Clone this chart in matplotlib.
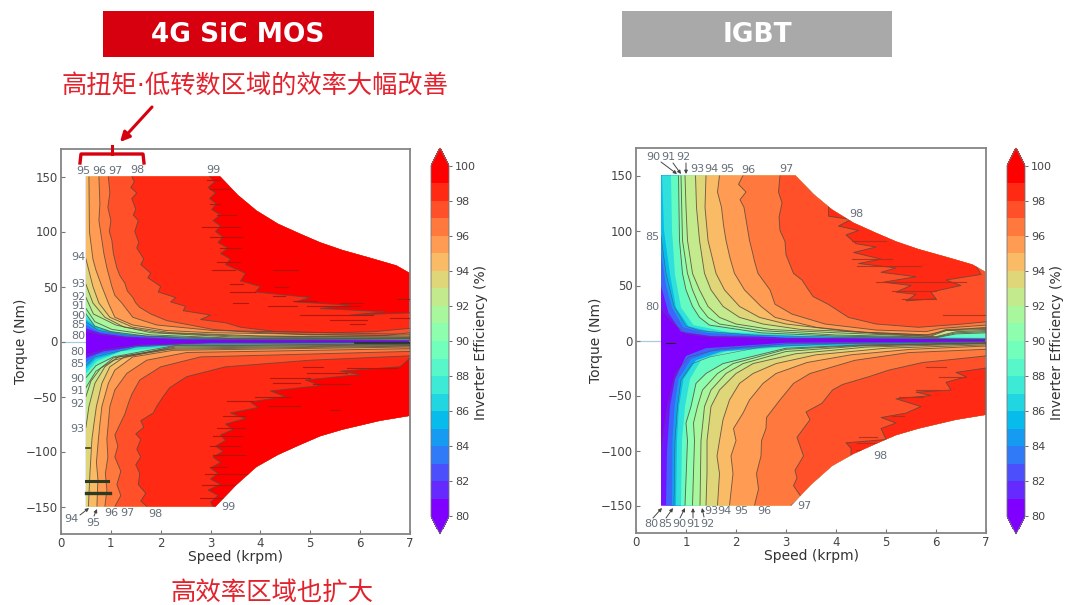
import numpy as np
import matplotlib
matplotlib.use('Agg')
import matplotlib.pyplot as plt
from matplotlib.colors import ListedColormap, BoundaryNorm
from matplotlib.colorbar import ColorbarBase
from matplotlib.patches import Polygon, Rectangle

plt.rcParams['font.family'] = ['DejaVu Sans', 'Noto Sans CJK SC']

# outline of the operating area
env_x = [0.5, 3.19, 3.55, 3.92, 4.35, 4.79, 5.2, 5.65, 6.2, 6.73, 7, 7, 6.4, 5.65, 5.2, 4.79, 4.35, 3.92, 3.5, 3.1, 0.5]
env_t = [150, 150, 133, 119, 107, 98, 90, 83, 76, 69, 62, -67.5, -72, -80, -86, -94, -103, -114, -131, -150, -150]

fill_levels = [80, 82, 84, 85, 86, 88, 90, 91, 92, 93, 94, 95, 96, 97, 98, 99]
line_levels = [80, 85, 90, 91, 92, 93, 94, 95, 96, 97, 98, 99]

# 4G SiC MOS, positive torque
sic_up_80_x = [0.5, 0.8, 1.3, 2.5, 7]
sic_up_80_t = [9, 6, 3.5, 1.5, 0.8]
sic_up_82_x = [0.5, 0.8, 1.3, 2.5, 7]
sic_up_82_t = [12, 7.5, 4.5, 2, 1]
sic_up_84_x = [0.5, 0.75, 1.3, 2.5, 7]
sic_up_84_t = [15, 9, 5.5, 2.6, 1.2]
sic_up_85_x = [0.5, 0.75, 1.3, 2.5, 7]
sic_up_85_t = [18, 10, 6, 3, 1.3]
sic_up_86_x = [0.5, 0.75, 1.3, 2.5, 7]
sic_up_86_t = [20, 12, 7, 3.5, 1.5]
sic_up_88_x = [0.5, 0.8, 1.3, 2.5, 7]
sic_up_88_t = [23, 12, 8, 4, 1.7]
sic_up_90_x = [0.5, 0.68, 1.0, 1.7, 3.5, 7]
sic_up_90_t = [25, 14, 9, 5, 2.5, 2.2]
sic_up_91_x = [0.5, 0.68, 1.02, 1.8, 3.5, 7]
sic_up_91_t = [30, 18, 11, 6, 3, 2.6]
sic_up_92_x = [0.5, 0.65, 1.1, 1.8, 3.5, 7]
sic_up_92_t = [40, 25, 15, 8, 4, 3]
sic_up_93_x = [0.5, 0.64, 0.88, 1.27, 2, 3.5, 7]
sic_up_93_t = [52, 35, 22, 13, 8, 5, 3.6]
sic_up_94_x = [0.5, 0.64, 0.76, 0.98, 1.44, 2.2, 4, 7]
sic_up_94_t = [75, 50, 35, 22, 13, 8, 5, 4.2]
sic_up_95_x = [0.56, 0.57, 0.64, 0.7, 0.82, 0.95, 1.08, 1.44, 2.1, 3, 7]
sic_up_95_t = [150, 100, 75, 65, 50, 35, 22, 15, 10, 8, 5]
sic_up_96_x = [0.76, 0.78, 0.76, 0.82, 0.86, 0.92, 1.02, 1.08, 1.22, 1.44, 1.92, 3.05, 7]
sic_up_96_t = [150, 125, 110, 92, 80, 67, 50, 42, 35, 22, 15, 10, 6.5]
sic_up_97_x = [0.95, 0.98, 0.94, 1.0, 0.97, 1.02, 1.05, 1.12, 1.18, 1.28, 1.33, 1.44, 1.5, 1.58, 1.8, 2.12, 3.05, 3.6, 5, 6.5, 7]
sic_up_97_t = [150, 135, 122, 110, 100, 92, 80, 67, 60, 53, 46, 40, 35, 31, 25, 19, 11, 9, 6, 5.5, 8]
sic_up_98_x = [1.42, 1.47, 1.4, 1.52, 1.42, 1.5, 1.45, 1.55, 1.48, 1.56, 1.52, 1.66, 1.6, 1.8, 1.74, 2.0, 1.95, 2.3, 2.2, 2.5, 2.45, 3.0, 2.8, 3.3, 3.6, 4.3, 5.5, 6.3, 7]
sic_up_98_t = [150, 145, 140, 135, 130, 120, 115, 110, 100, 90, 85, 75, 70, 62, 58, 50, 45, 40, 36, 32, 28, 24, 20, 17, 13, 9, 8, 9, 12]
sic_up_99_x = [2.98, 3.08, 2.95, 3.1, 2.98, 3.12, 3.02, 3.2, 3.05, 3.2, 3.1, 3.25, 3.15, 3.35, 3.2, 3.4, 3.3, 3.7, 3.6, 4.0, 3.9, 5.0, 4.7, 5.8, 5.2, 6.5, 5.8, 7]
sic_up_99_t = [150, 145, 140, 135, 130, 125, 120, 115, 110, 105, 100, 95, 90, 85, 80, 75, 70, 62, 55, 50, 45, 40, 36, 33, 30, 27, 24, 26]

# 4G SiC MOS, negative torque
sic_lo_80_x = [0.5, 0.9, 1.6, 3, 7]
sic_lo_80_t = [-12, -7, -3, -1.2, -0.8]
sic_lo_82_x = [0.5, 0.85, 1.6, 3, 7]
sic_lo_82_t = [-15, -9, -4, -1.5, -1]
sic_lo_84_x = [0.5, 0.72, 1.5, 3, 7]
sic_lo_84_t = [-19, -12, -4.5, -1.8, -1.2]
sic_lo_85_x = [0.5, 0.68, 1.5, 2.5, 7]
sic_lo_85_t = [-22, -14, -5, -2.5, -1.3]
sic_lo_86_x = [0.5, 0.7, 1.5, 2.5, 7]
sic_lo_86_t = [-25, -16, -5.5, -2.8, -1.5]
sic_lo_88_x = [0.5, 0.72, 1.2, 2.5, 7]
sic_lo_88_t = [-29, -18, -9, -3.2, -1.7]
sic_lo_90_x = [0.5, 0.7, 1.05, 2.3, 7]
sic_lo_90_t = [-33, -22, -14, -3.5, -2.2]
sic_lo_91_x = [0.5, 0.7, 1.05, 2.3, 7]
sic_lo_91_t = [-42, -27, -17, -4, -2.6]
sic_lo_92_x = [0.5, 0.6, 0.8, 1.05, 2.3, 7]
sic_lo_92_t = [-50, -36, -24, -15, -5, -3]
sic_lo_93_x = [0.5, 0.56, 0.68, 0.88, 1.15, 2.3, 7]
sic_lo_93_t = [-78, -59, -38, -23, -14, -6, -3.6]
sic_lo_94_x = [0.55, 0.58, 0.62, 0.66, 0.71, 0.82, 0.98, 1.27, 2.2, 7]
sic_lo_94_t = [-150, -120, -89, -75, -59, -38, -23, -14, -7, -4.2]
sic_lo_95_x = [0.72, 0.74, 0.71, 0.75, 0.78, 0.82, 0.95, 1.08, 1.44, 2.25, 7]
sic_lo_95_t = [-150, -125, -110, -89, -75, -59, -38, -26, -14, -8, -5]
sic_lo_96_x = [0.88, 0.92, 0.89, 0.94, 0.92, 0.98, 1.08, 1.32, 1.72, 2.52, 7]
sic_lo_96_t = [-150, -135, -120, -105, -89, -59, -44, -29, -17, -10, -6.5]
sic_lo_97_x = [1.08, 1.2, 1.12, 1.2, 1.08, 1.14, 1.08, 1.28, 1.36, 1.42, 1.58, 2, 2.8, 7]
sic_lo_97_t = [-150, -140, -130, -118, -105, -95, -85, -66, -55, -48, -35, -23, -14, -9]
sic_lo_98_x = [1.72, 1.6, 1.7, 1.55, 1.58, 1.5, 1.6, 1.52, 1.6, 1.5, 1.66, 1.6, 1.85, 1.92, 2.05, 2.18, 2.52, 3.3, 5, 7]
sic_lo_98_t = [-150, -145, -138, -130, -120, -112, -105, -98, -89, -84, -78, -72, -65, -59, -50, -42, -32, -23, -17, -13]
sic_lo_99_x = [3.05, 3.0, 3.15, 2.95, 3.2, 3.0, 3.15, 3.0, 3.2, 3.05, 3.25, 3.1, 3.3, 3.2, 3.45, 3.3, 3.7, 3.4, 3.95, 3.8, 4.5, 4.2, 5.2, 4.9, 6.0, 5.6, 6.8, 7]
sic_lo_99_t = [-150, -146, -140, -135, -130, -125, -120, -115, -110, -105, -100, -95, -90, -85, -80, -75, -70, -65, -60, -55, -50, -45, -40, -35, -30, -27, -23, -15]

# IGBT, positive torque
igbt_up_80_x = [0.5, 0.76, 1, 1.5, 3, 7]
igbt_up_80_t = [28, 15, 6, 3, 1.5, 1]
igbt_up_82_x = [0.5, 0.65, 0.9, 1.5, 7]
igbt_up_82_t = [50, 25, 8, 4, 1.2]
igbt_up_84_x = [0.5, 0.6, 0.72, 0.95, 1.4, 3, 7]
igbt_up_84_t = [80, 50, 30, 12, 7, 2.5, 1.4]
igbt_up_85_x = [0.5, 0.6, 0.76, 1.0, 1.27, 2.3, 4, 7]
igbt_up_85_t = [95, 61, 31, 13, 9, 5, 3, 1.5]
igbt_up_86_x = [0.52, 0.56, 0.68, 0.8, 1.05, 1.5, 3, 7]
igbt_up_86_t = [150, 100, 60, 30, 13, 8, 4, 2]
igbt_up_88_x = [0.7, 0.72, 0.78, 0.9, 1.15, 1.8, 3.5, 7]
igbt_up_88_t = [150, 100, 60, 30, 14, 8, 4, 2.5]
igbt_up_90_x = [0.85, 0.87, 0.93, 1.0, 1.13, 1.27, 1.47, 2.5, 4, 6, 6.4, 7]
igbt_up_90_t = [150, 91, 61, 46, 31, 21, 14, 7, 4, 2.5, 6, 7]
igbt_up_91_x = [0.9, 0.93, 1.03, 1.13, 1.27, 1.44, 1.67, 2.5, 4, 6, 6.4, 7]
igbt_up_91_t = [150, 91, 61, 46, 31, 21, 15, 9, 5, 3, 7, 8]
igbt_up_92_x = [0.98, 1.0, 1.03, 1.13, 1.27, 1.44, 1.67, 2, 2.7, 4, 6, 6.4, 7]
igbt_up_92_t = [150, 121, 91, 61, 46, 31, 21, 15, 10, 7, 3.5, 8, 9]
igbt_up_93_x = [1.19, 1.21, 1.27, 1.37, 1.5, 1.74, 2.07, 2.54, 3.3, 5.8, 6.2, 7]
igbt_up_93_t = [150, 121, 91, 61, 46, 31, 21, 15, 10, 5, 9, 10]
igbt_up_94_x = [1.4, 1.38, 1.44, 1.6, 1.77, 2.07, 2.47, 3, 4.3, 5.9, 6.2, 7]
igbt_up_94_t = [150, 121, 91, 61, 46, 31, 21, 15, 8, 5, 10, 11]
igbt_up_95_x = [1.67, 1.63, 1.71, 1.75, 1.8, 1.88, 1.97, 2.17, 2.5, 2.78, 3.6, 4.8, 5.9, 6.2, 7]
igbt_up_95_t = [150, 135, 121, 105, 91, 75, 61, 46, 31, 21, 12, 6.3, 4, 9, 12]
igbt_up_96_x = [2.14, 2.05, 2.2, 2.08, 2.16, 2.27, 2.33, 2.37, 2.44, 2.68, 2.78, 3.12, 3.78, 4.8, 5.8, 6.1, 7]
igbt_up_96_t = [150, 142, 135, 128, 121, 91, 80, 72, 61, 46, 33, 24, 15, 9.5, 8, 11, 14]
igbt_up_97_x = [2.88, 2.85, 2.92, 2.86, 2.88, 2.98, 3.0, 3.15, 3.32, 3.42, 3.54, 3.84, 4.25, 4.8, 5.65, 6.54, 7]
igbt_up_97_t = [150, 135, 125, 112, 100, 90, 78, 61, 55, 48, 40, 33, 21, 15, 12, 15, 17]
igbt_up_98_x = [3.85, 3.85, 4.3, 4.05, 4.45, 4.2, 4.4, 4.8, 4.35, 4.9, 4.45, 5.2, 4.9, 5.6, 4.95, 5.5, 5.2, 5.6, 5.4, 6.0, 5.9, 6.5, 6.2, 6.9, 6.8, 6.8]
igbt_up_98_t = [125, 113, 110, 104, 100, 96, 88, 85, 80, 74, 70, 66, 62, 58, 53, 50, 44, 42, 36, 38, 44, 50, 55, 60, 68, 125]

# IGBT, negative torque
igbt_lo_80_x = [0.5, 0.62, 0.78, 1.05, 1.67, 3, 7]
igbt_lo_80_t = [-100, -60, -30, -15, -7.5, -3, -1]
igbt_lo_82_x = [0.6, 0.62, 0.68, 0.78, 1, 1.4, 3, 7]
igbt_lo_82_t = [-150, -100, -60, -35, -14, -7, -2, -1]
igbt_lo_84_x = [0.72, 0.73, 0.77, 0.85, 1.1, 1.5, 3, 7]
igbt_lo_84_t = [-150, -90, -60, -35, -17, -10, -3.5, -1.3]
igbt_lo_85_x = [0.76, 0.78, 0.83, 0.9, 1.13, 1.47, 2.5, 4, 7]
igbt_lo_85_t = [-150, -91, -60, -36, -21, -15, -6, -3, -1.5]
igbt_lo_86_x = [0.8, 0.82, 0.86, 0.95, 1.2, 1.7, 3, 7]
igbt_lo_86_t = [-150, -90, -60, -35, -18, -10, -5, -1.7]
igbt_lo_88_x = [0.9, 0.92, 0.98, 1.08, 1.3, 1.8, 3, 7]
igbt_lo_88_t = [-150, -90, -60, -35, -18, -10, -6, -1.9]
igbt_lo_90_x = [0.98, 1.03, 1.0, 1.1, 1.2, 1.4, 1.74, 3, 4.5, 7]
igbt_lo_90_t = [-150, -91, -75, -60, -39, -30, -21, -7, -4, -2]
igbt_lo_91_x = [1.13, 1.17, 1.15, 1.23, 1.33, 1.63, 1.94, 3, 4.5, 7]
igbt_lo_91_t = [-150, -91, -75, -60, -45, -30, -21, -8, -4.5, -2.2]
igbt_lo_92_x = [1.28, 1.3, 1.37, 1.5, 1.8, 2.14, 3, 4.5, 7]
igbt_lo_92_t = [-150, -91, -60, -45, -30, -21, -10, -5, -2.5]
igbt_lo_93_x = [1.4, 1.42, 1.42, 1.5, 1.67, 2.0, 2.34, 3.2, 4.6, 7]
igbt_lo_93_t = [-150, -121, -91, -60, -45, -30, -21, -12, -6, -3]
igbt_lo_94_x = [1.63, 1.67, 1.62, 1.67, 1.74, 1.87, 2.07, 2.34, 2.8, 3.6, 5, 7]
igbt_lo_94_t = [-150, -121, -105, -91, -72, -54, -39, -30, -21, -13, -7, -4]
igbt_lo_95_x = [1.87, 1.94, 1.9, 2.0, 1.95, 2.14, 2.27, 2.54, 2.8, 3.42, 4.3, 5.5, 7]
igbt_lo_95_t = [-150, -121, -105, -91, -80, -66, -54, -39, -30, -20, -13, -8, -5]
igbt_lo_96_x = [2.37, 2.45, 2.41, 2.5, 2.51, 2.6, 2.61, 2.88, 3.15, 3.48, 4.38, 5.45, 7]
igbt_lo_96_t = [-150, -135, -121, -105, -91, -80, -70, -54, -39, -30, -18, -11, -8]
igbt_lo_97_x = [3.1, 3.3, 3.15, 3.22, 3.18, 3.35, 3.22, 3.48, 3.4, 3.72, 3.93, 4.13, 4.65, 5.05, 5.73, 6.8, 7]
igbt_lo_97_t = [-150, -142, -132, -125, -118, -105, -88, -72, -65, -57, -45, -40, -33, -27, -20, -15, -14]
igbt_lo_98_x = [4.3, 4.3, 4.2, 5.0, 4.9, 5.2, 4.9, 5.4, 5.7, 5.2, 5.9, 5.6, 6.3, 6.2, 6.6, 6.4, 7, 7, 4.3]
igbt_lo_98_t = [-125, -98, -93, -90, -80, -75, -70, -66, -60, -53, -50, -47, -45, -38, -33, -29, -25, -125, -125]

# short dark streaks beside the jagged contours
sic_streak_t = [146.4, 139, 125, 114.7, 104, 95, 84.6, 72.5, 65, 65, 52, 50, 44.7, 41.7, 34.6, 37, 32, 32, 35, 39, 24, 19.5, 21, 16,
                -22.8, -24, -29, -33.6, -38, -39, -50, -54, -59, -68, -62.5, -79, -86, -95, -103, -114, -120, -130, -142]
sic_streak_x0 = [2.92, 2.99, 2.99, 3.12, 2.82, 2.99, 3.19, 3.12, 3.02, 4.25, 3.39, 4.29, 3.39, 4.25, 3.45, 4.66, 4.15, 4.93, 5.59, 6.73, 4.79, 5.39, 6.6, 5.79,
                 4.86, 5.73, 4.93, 4.19, 4.25, 5.06, 3.89, 3.32, 4.15, 3.25, 5.39, 3.12, 3.05, 2.99, 3.05, 2.99, 2.89, 2.82, 2.79]
sic_streak_x1 = [3.19, 3.39, 3.19, 3.52, 3.59, 3.65, 3.62, 3.59, 3.49, 4.76, 3.65, 4.56, 3.89, 4.49, 3.75, 5.13, 4.73, 5.99, 6.06, 7, 6.26, 6.13, 7, 6.1,
                 5.26, 6.73, 5.73, 4.99, 4.79, 5.79, 4.59, 3.85, 4.79, 3.69, 5.59, 3.69, 3.65, 3.59, 3.69, 3.32, 4.0, 3.52, 3.32]
igbt_streak_t = [90.5, 74, 68, 53, 45, 38, 23.6, -87.6, -93.6, -99.6, -24, -33, -45, -51, -69]
igbt_streak_x0 = [4.32, 4.32, 4.42, 4.79, 5.12, 5.32, 6.13, 4.45, 4.42, 4.39, 5.79, 6.06, 5.6, 5.26, 5.12]
igbt_streak_x1 = [4.99, 5.12, 5.7, 6.6, 5.99, 5.99, 7, 4.82, 4.79, 4.86, 6.2, 6.6, 6.06, 5.73, 5.36]

ticks_x = [0, 1, 2, 3, 4, 5, 6, 7]
ticks_y = [-150, -100, -50, 0, 50, 100, 150]
cbar_levels = list(range(80, 101))
cbar_ticks = list(range(80, 101, 2))

# text labels on the contours: text, x px, y px
sic_labels = [('95', 83, 171), ('96', 99, 171), ('97', 115, 171), ('98', 137, 170), ('99', 213, 170),
              ('94', 78, 257), ('93', 78, 284), ('92', 78, 297), ('91', 78, 306), ('90', 78, 316),
              ('85', 78, 325), ('80', 78, 336), ('80', 77, 352), ('85', 77, 364), ('90', 77, 379),
              ('91', 77, 391), ('92', 77, 404), ('93', 77, 429), ('94', 71, 519), ('95', 93, 523),
              ('96', 111, 513), ('97', 127, 513), ('98', 155, 514), ('99', 228, 507)]
sic_arrows = [(80, 515, 89, 508), (94, 516, 97, 509)]
igbt_labels = [('90', 653, 157), ('91', 668, 157), ('92', 683, 157), ('93', 697, 169), ('94', 711, 169),
               ('95', 727, 169), ('96', 748, 170), ('97', 786, 169), ('85', 652, 237), ('80', 652, 307),
               ('98', 856, 214), ('98', 880, 456), ('97', 804, 506), ('80', 651, 524), ('85', 665, 524),
               ('90', 679, 524), ('91', 693, 524), ('92', 707, 524), ('93', 711, 511), ('94', 724, 511),
               ('95', 741, 511), ('96', 764, 511)]
igbt_arrows = [(661, 162, 677, 174), (673, 163, 681, 174), (686, 163, 686, 174),
               (653, 518, 662, 508), (666, 518, 673, 508), (680, 518, 685, 508),
               (693, 518, 693, 508), (704, 517, 702, 508)]

W, H = 1065, 605
LINE = '#5c4a3c'
LAB = '#66707a'
RED = '#d7000f'

colors = plt.cm.rainbow(np.linspace(0, 1, 20))
cmap = ListedColormap(colors)
cmap.set_under(colors[0])
cmap.set_over(colors[-1])


def px_axes(left, top, right, bottom):
    return fig.add_axes([left / W, 1 - bottom / H, (right - left) / W, (bottom - top) / H])


def band_color(i, levels):
    lv = levels[i]
    nxt = levels[i + 1] if i + 1 < len(levels) else lv + 1
    return plt.cm.rainbow(((lv + nxt) / 2 - 0.5 - 80) / 19)


def draw_half(ax, name, sign, clip, levels):
    for i, lv in enumerate(levels):
        xs = globals()[f'{name}_{lv}_x']
        ts = globals()[f'{name}_{lv}_t']
        # everything right of / beyond the contour is at least this efficient
        pts = list(zip(xs, ts)) + [(7.5, ts[-1]), (7.5, sign * 200), (xs[0], sign * 200)]
        p = Polygon(pts, closed=True, fc=band_color(i, levels), ec='none', zorder=2 + i * 0.01)
        ax.add_patch(p)
        p.set_clip_path(clip)
    for lv in line_levels:
        if lv not in levels:
            continue
        # the low contours are packed tight, keep them fine
        lw = 0.35 if lv < 90 else 0.65
        ln, = ax.plot(globals()[f'{name}_{lv}_x'], globals()[f'{name}_{lv}_t'],
                      color=LINE, lw=lw, alpha=0.85, zorder=3)
        ln.set_clip_path(clip)


def panel(box, cbox, up, lo, levels, streak_t, streak_x0, streak_x1, streak_color):
    ax = px_axes(*box)
    ax.set_xlim(0, 7)
    ax.set_ylim(-175, 175)
    clip = Polygon(list(zip(env_x, env_t)), closed=True, transform=ax.transData)
    ax.fill(env_x, env_t, color=colors[0], lw=0, zorder=1)
    ax.axhline(0, color='#a9cbe0', lw=0.9, zorder=0.5)
    draw_half(ax, up, 1, clip, levels)
    draw_half(ax, lo, -1, clip, levels)
    for t, x0, x1 in zip(streak_t, streak_x0, streak_x1):
        ln, = ax.plot([x0, x1], [t, t], color=streak_color, lw=0.8, alpha=0.9, zorder=3.5)
        ln.set_clip_path(clip)
    ax.set_xticks(ticks_x)
    ax.set_yticks(ticks_y)
    ax.tick_params(direction='in', length=3, width=0.8, color='#777777', labelcolor='#444444',
                   labelsize=8.5, pad=2.5)
    ax.set_xlabel('Speed (krpm)', fontsize=10, color='#333333', labelpad=0)
    ax.set_ylabel('Torque (Nm)', fontsize=10, color='#333333', labelpad=-2)
    for s in ax.spines.values():
        s.set_color('#858585')
        s.set_linewidth(1.3)

    cax = px_axes(*cbox)
    norm = BoundaryNorm(cbar_levels, 20)
    cb = ColorbarBase(cax, cmap=cmap, norm=norm, extend='both', extendfrac=17.5 / 350,
                      ticks=cbar_ticks, spacing='proportional', drawedges=False)
    cb.minorticks_off()
    cb.outline.set_edgecolor('#777777')
    cb.outline.set_linewidth(0.6)
    cb.ax.tick_params(length=2.5, width=0.7, color='#666666', labelcolor='#444444', labelsize=8, pad=2)
    return ax


fig = plt.figure(figsize=(W / 100, H / 100), dpi=100)

ax1 = panel((61, 149, 410, 534), (431, 148, 449, 534), 'sic_up', 'sic_lo', fill_levels,
            sic_streak_t, sic_streak_x0, sic_streak_x1, '#a81810')
ax2 = panel((636, 148, 986, 533), (1007, 148, 1025, 534), 'igbt_up', 'igbt_lo', fill_levels[:-1],
            igbt_streak_t, igbt_streak_x0, igbt_streak_x1, '#b0301a')

# dark streaks at the low speed end
ax1.plot([0.5, 0.95], [-127, -127], color='#2c3a22', lw=2.2, zorder=4)
ax1.plot([0.5, 0.98], [-138, -138], color='#2c3a22', lw=2.4, zorder=4)
ax1.plot([0.5, 0.58], [-97, -97], color='#3a3a22', lw=1.2, zorder=4)
ax1.plot([5.9, 7], [-1, -1], color='#20302a', lw=1.2, zorder=4)
ax2.plot([0.6, 0.78], [-2, -2], color='#222222', lw=0.8, zorder=4)

# overlay in pixel coordinates for banners, notes and contour labels
ov = fig.add_axes([0, 0, 1, 1], zorder=10)
ov.set_xlim(0, W)
ov.set_ylim(H, 0)
ov.axis('off')
ov.patch.set_alpha(0)

ov.add_patch(Rectangle((103, 11), 271, 46, fc=RED, ec='none'))
ov.add_patch(Rectangle((622, 11), 270, 46, fc='#a9a9a9', ec='none'))
ov.text(238, 35, '4G SiC MOS', color='white', fontsize=19, fontweight='bold',
        ha='center', va='center')
ov.text(757, 35, 'IGBT', color='white', fontsize=19, fontweight='bold',
        ha='center', va='center')
ov.text(255, 86, '高扭矩·低转数区域的效率大幅改善', color='#e2232e', fontsize=18.2,
        ha='center', va='center')
ov.text(272, 593, '高效率区域也扩大', color='#e2232e', fontsize=18.3,
        ha='center', va='center')
ov.text(481, 342, 'Inverter Efficiency (%)', color='#333333', fontsize=10, rotation=90,
        ha='center', va='center')
ov.text(1057, 342, 'Inverter Efficiency (%)', color='#333333', fontsize=10, rotation=90,
        ha='center', va='center')

ov.plot([80, 81, 143, 144], [163, 154, 154, 163], color=RED, lw=2.4, solid_joinstyle='round')
ov.plot([112, 112], [146, 154], color=RED, lw=2.2)
ov.annotate('', xy=(120, 142), xytext=(152, 107),
            arrowprops=dict(arrowstyle='-|>', color=RED, lw=2.2, mutation_scale=14, shrinkA=0, shrinkB=0))

for labels, arrows in [(sic_labels, sic_arrows), (igbt_labels, igbt_arrows)]:
    for s, x, y in labels:
        ov.text(x, y, s, color=LAB, fontsize=8, ha='center', va='center')
    for x0, y0, x1, y1 in arrows:
        ov.annotate('', xy=(x1, y1), xytext=(x0, y0),
                    arrowprops=dict(arrowstyle='-|>', color='#444444', lw=0.7, mutation_scale=5,
                                    shrinkA=0, shrinkB=0))

fig.savefig('out.png', dpi=100)
